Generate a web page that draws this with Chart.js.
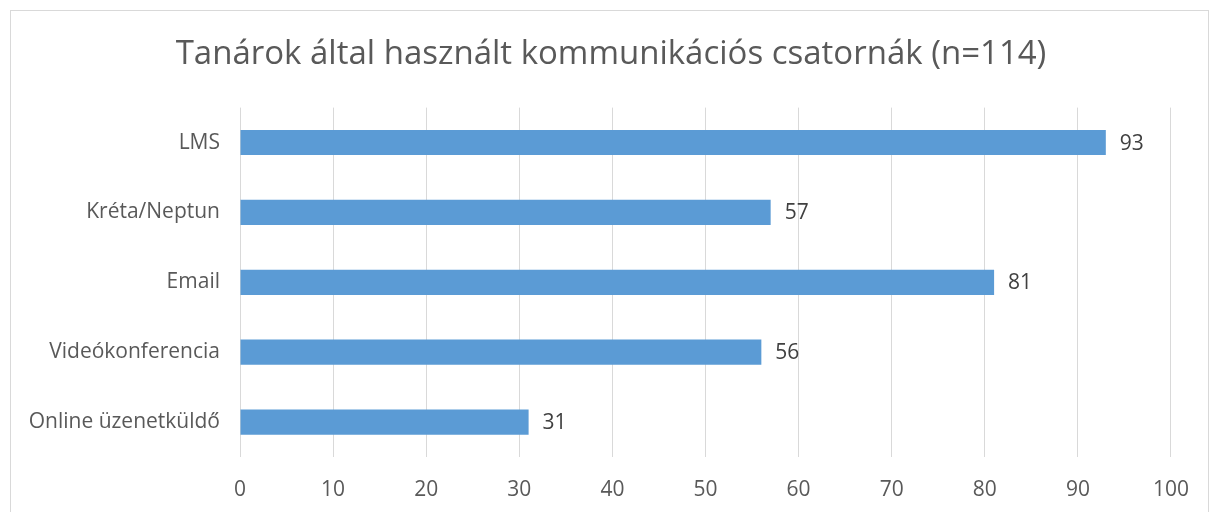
<!DOCTYPE html>
<html>
<head>
<meta charset="utf-8">
<script src="https://cdn.jsdelivr.net/npm/chart.js@4"></script>
<style>
  html, body { margin: 0; padding: 0; background: #fff; }
  #wrap { position: relative; width: 1209px; height: 512px; overflow: hidden; }
  #frame { position: absolute; left: 10px; top: 10px; width: 1197px; height: 520px; border: 1px solid #d9d9d9; }
  canvas { position: absolute; left: 0; top: 0; }
</style>
</head>
<body>
<div id="wrap">
  <div id="frame"></div>
  <canvas id="chart" width="1209" height="512"></canvas>
</div>
<script>
// adatok az ábráról
const categories = ['LMS', 'Kréta/Neptun', 'Email', 'Videókonferencia', 'Online üzenetküldő'];
const values = [93, 57, 81, 56, 31];
const chartTitle = 'Tanárok által használt kommunikációs csatornák (n=114)';
const axisMin = 0;
const axisMax = 100;
const axisStep = 10;

// érték címkék a sávok végére
const barLabels = {
    id: 'barLabels',
    afterDatasetsDraw(chart) {
        const ctx = chart.ctx;
        const meta = chart.getDatasetMeta(0);
        ctx.save();
        ctx.font = '21px "Open Sans", sans-serif';
        ctx.fillStyle = '#404040';
        ctx.textAlign = 'left';
        ctx.textBaseline = 'middle';
        meta.data.forEach((bar, i) => {
            ctx.fillText(String(values[i]), bar.x + 14, bar.y + 1);
        });
        ctx.restore();
    }
};

const ctx = document.getElementById('chart').getContext('2d');
new Chart(ctx, {
    type: 'bar',
    data: {
        labels: categories,
        datasets: [{
            data: values,
            backgroundColor: '#5b9bd5',
            barPercentage: 0.72,
            categoryPercentage: 0.5
        }]
    },
    options: {
        indexAxis: 'y',
        responsive: false,
        animation: false,
        // negatív jobb padding + üres jobb oldali tengely: így a cím a referenciához igazodik
        layout: { padding: { top: 10, left: 0, right: -13, bottom: 0 } },
        plugins: {
            legend: { display: false },
            tooltip: { enabled: false },
            title: {
                display: true,
                text: chartTitle,
                color: '#595959',
                font: { family: '"Open Sans", sans-serif', size: 33, weight: 'normal' },
                padding: { top: 25, bottom: 33 }
            }
        },
        scales: {
            x: {
                min: axisMin,
                max: axisMax,
                ticks: {
                    stepSize: axisStep,
                    color: '#595959',
                    font: { family: '"Open Sans", sans-serif', size: 21 },
                    padding: 20
                },
                grid: { color: '#d9d9d9', drawTicks: false },
                border: { display: false },
                afterFit(scale) { scale.height = 55; }
            },
            y: {
                ticks: {
                    color: '#595959',
                    font: { family: '"Open Sans", sans-serif', size: 21 },
                    padding: 20
                },
                grid: { display: false, drawTicks: false },
                border: { display: false },
                afterFit(scale) { scale.width = 240; }
            },
            spacer: {
                type: 'linear',
                position: 'right',
                ticks: { display: false },
                grid: { display: false, drawTicks: false },
                border: { display: false },
                afterFit(scale) { scale.width = 46; }
            }
        }
    },
    plugins: [barLabels]
});
</script>
</body>
</html>
